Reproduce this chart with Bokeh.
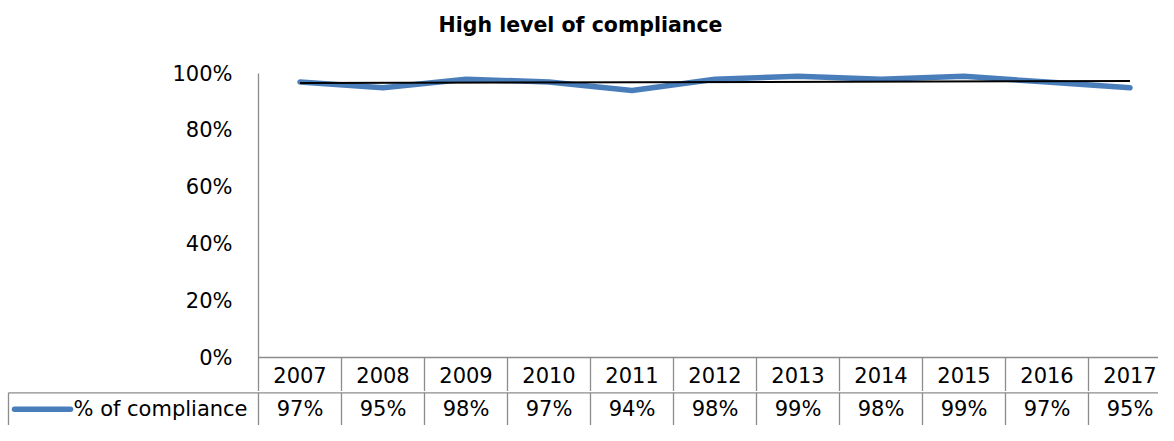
import numpy as np
from bokeh.plotting import figure
from bokeh.layouts import column
from bokeh.models import (Range1d, FixedTicker, PrintfTickFormatter, Label,
                          ColumnDataSource)
from bokeh.core.properties import value
from bokeh.embed import file_html
from bokeh.resources import INLINE

# ---------------- data ----------------
years = ["2007", "2008", "2009", "2010", "2011", "2012", "2013", "2014", "2015", "2016", "2017"]
compliance = [97, 95, 98, 97, 94, 98, 99, 98, 99, 97, 95]
y_ticks = [0, 20, 40, 60, 80, 100]
title_text = "High level of compliance"
series_name = "% of compliance"

# ---------------- layout constants (canvas pixels) ----------------
W = 1158
MAIN_H = 391             # chart + year row
TABLE_H = 34             # value row
FRAME_LEFT = 258
Y100_PX = 73
Y0_PX = 357
COL_W = 83.0
TITLE_X_PX, TITLE_Y_PX = 580, 24
YEAR_MID_PX = 374
CELL_LEFT_PX = 8
LEG_X0_PX, LEG_X1_PX, LEG_TEXT_PX = 14, 70, 73

PPU = (Y0_PX - Y100_PX) / 100.0
def ypx(px):
    return (Y0_PX - px) / PPU
def xpx(px):
    return -0.5 + (px - FRAME_LEFT) / COL_W

FONT = "DejaVu Sans"
GRID = "#8c8c8c"
BLUE = "#4a7ebb"
FS = "21px"

X_MAX = xpx(W)

# ---------------- main chart (with year row) ----------------
p = figure(width=W, height=MAIN_H, output_backend="svg", toolbar_location=None,
           x_range=Range1d(-0.5, X_MAX), y_range=Range1d(ypx(MAIN_H), ypx(0)),
           x_axis_location=None, min_border_left=FRAME_LEFT, min_border_right=0,
           min_border_top=0, min_border_bottom=0)
p.frame_align = False
p.title.visible = False
p.outline_line_color = None
p.ygrid.visible = False
p.xgrid.visible = False

ax = p.yaxis[0]
ax.ticker = FixedTicker(ticks=y_ticks)
ax.formatter = PrintfTickFormatter(format="%d%%")
ax.bounds = (ypx(MAIN_H), 100)
ax.axis_line_color = GRID
ax.axis_line_width = 1.3
ax.major_tick_line_color = None
ax.minor_tick_line_color = None
ax.major_tick_out = 0
ax.major_tick_in = 0
ax.major_label_standoff = 26
ax.major_label_text_font = FONT
ax.major_label_text_font_size = FS
ax.major_label_text_color = "black"

xs = list(range(len(years)))
src = ColumnDataSource(dict(x=xs, y=compliance, year=years,
                            val=[f"{v}%" for v in compliance]))

p.line("x", "y", source=src, line_color=BLUE, line_width=5.5,
       line_cap="round", line_join="round")

# linear trendline computed from the series
slope, icept = np.polyfit(xs, compliance, 1)
tx = [xs[0], xs[-1]]
p.line(tx, [icept + slope * t for t in tx], line_color="black", line_width=2)

# year row of the data table
col_edges = [i + 0.5 for i in xs]
p.segment(x0=[-0.5], y0=[0], x1=[X_MAX + 1], y1=[0], line_color=GRID, line_width=1.3)
p.segment(x0=col_edges, y0=[0] * len(col_edges), x1=col_edges,
          y1=[ypx(MAIN_H + 5)] * len(col_edges), line_color=GRID, line_width=1.3)
p.text(x="x", y=ypx(YEAR_MID_PX), text="year", source=src, text_align="center",
       text_baseline="middle", text_font=value(FONT), text_font_size=FS,
       text_color="black")

p.add_layout(Label(x=xpx(TITLE_X_PX), y=ypx(TITLE_Y_PX), text=title_text,
                   text_align="center", text_baseline="middle",
                   text_font=FONT, text_font_style="bold",
                   text_font_size="20.5px", text_color="black"))

# ---------------- value row of the data table ----------------
t = figure(width=W, height=TABLE_H, output_backend="svg", toolbar_location=None,
           x_range=Range1d(xpx(0), X_MAX), y_range=Range1d(0, 1.04),
           x_axis_location=None, y_axis_location=None,
           min_border_left=0, min_border_right=0, min_border_top=0, min_border_bottom=0)
t.frame_align = False
t.title.visible = False
t.outline_line_color = None
t.xgrid.visible = False
t.ygrid.visible = False

t.segment(x0=[xpx(CELL_LEFT_PX)], y0=[1], x1=[X_MAX + 1], y1=[1],
          line_color=GRID, line_width=1.3)
t.segment(x0=[xpx(CELL_LEFT_PX)] + [-0.5] + col_edges,
          y0=[1] * (len(col_edges) + 2),
          x1=[xpx(CELL_LEFT_PX)] + [-0.5] + col_edges,
          y1=[-0.2] * (len(col_edges) + 2), line_color=GRID, line_width=1.3)
t.line([xpx(LEG_X0_PX), xpx(LEG_X1_PX)], [0.5, 0.5], line_color=BLUE,
       line_width=5.5, line_cap="round")
t.text(x=[xpx(LEG_TEXT_PX)], y=[0.5], text=[series_name], text_align="left",
       text_baseline="middle", text_font=value(FONT), text_font_size=FS,
       text_color="black")
t.text(x="x", y=0.5, text="val", source=src, text_align="center",
       text_baseline="middle", text_font=value(FONT), text_font_size=FS,
       text_color="black")

layout = column(p, t, spacing=0)
open("out.html", "w").write(file_html(layout, INLINE))
